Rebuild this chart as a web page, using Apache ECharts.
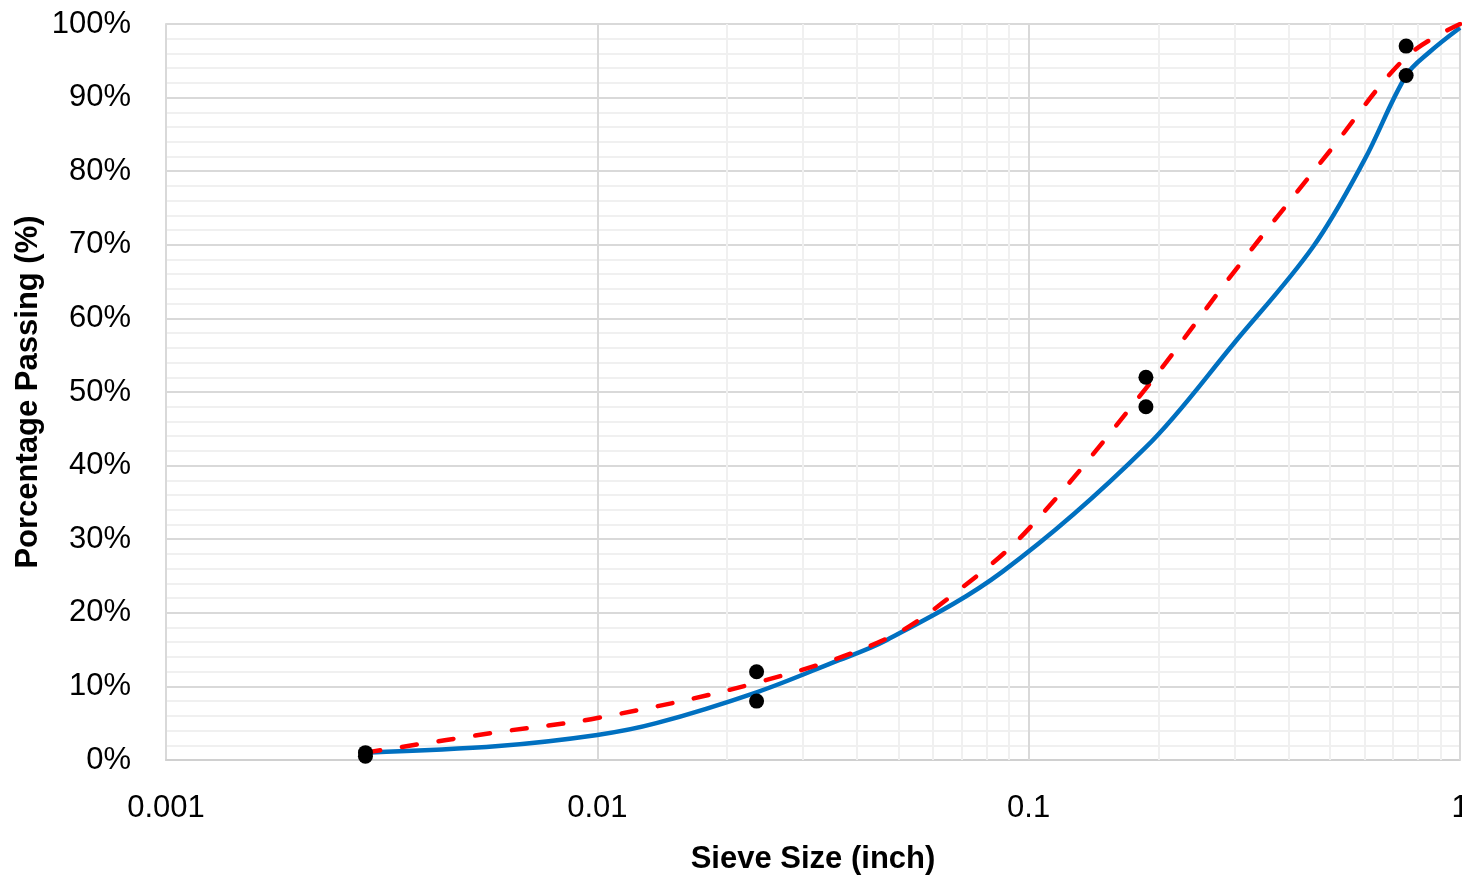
<!DOCTYPE html>
<html>
<head>
<meta charset="utf-8">
<script src="https://cdn.jsdelivr.net/npm/echarts@6/dist/echarts.min.js"></script>
<style>
html, body { margin: 0; padding: 0; background: #fff; }
#chart { width: 1462px; height: 877px; }
</style>
</head>
<body>
<div id="chart"></div>
<script>
// sieve sizes (inch) and % passing
var measuredSize = [0.0029, 0.0029, 0.0234, 0.0234, 0.187, 0.187, 0.75, 0.75];
var measuredPass = [1.0, 0.5, 12, 8, 52, 48, 97, 93];

var blueSize = [0.0029, 0.0059, 0.0100, 0.0137, 0.0234, 0.035, 0.0469, 0.087, 0.187, 0.30, 0.456, 0.60, 0.75, 0.85, 1.0];
var bluePass = [1.0, 1.9, 3.4, 5.0, 9.2, 13.2, 16.3, 25.6, 42.5, 56.7, 69.7, 81.5, 93.0, 96.2, 99.5];

var redSize = [0.0029, 0.0059, 0.0100, 0.0234, 0.0469, 0.070, 0.100, 0.187, 0.30, 0.50, 0.75, 1.0];
var redPass = [1.0, 3.8, 5.7, 10.5, 16.5, 23.4, 31.4, 50.5, 66.4, 82.8, 95.5, 100];

var xTickLabels = ['0.001', '0.01', '0.1', '1'];
var decades = [0.001, 0.01, 0.1, 1];

var FONT = "'Liberation Sans', Arial, sans-serif";

function pairs(xs, ys) {
	var out = [];
	for (var i = 0; i < xs.length; i++) {
		out.push([xs[i], ys[i]]);
	}
	return out;
}

// light vertical lines at 2..9 of every decade
var minorX = [];
decades.slice(0, 3).forEach(function(d) {
	for (var k = 2; k <= 9; k++) {
		minorX.push({ xAxis: +(d * k).toPrecision(3) });
	}
});
var majorX = decades.map(function(d) { return { xAxis: d }; });

var chart = echarts.init(document.getElementById('chart'));

chart.setOption({
	animation: false,
	backgroundColor: '#ffffff',
	grid: { left: 166, right: 2, top: 24, bottom: 117, containLabel: false, outerBoundsMode: 'none' },
	xAxis: {
		type: 'log',
		logBase: 10,
		min: 0.001,
		max: 1,
		name: 'Sieve Size (inch)',
		nameLocation: 'middle',
		nameGap: 84,
		nameMoveOverlap: false,
		nameTextStyle: { fontFamily: FONT, fontSize: 31, fontWeight: 'bold', color: '#000' },
		axisLine: { show: true, lineStyle: { color: '#d0d0d0', width: 2 } },
		axisTick: { show: false },
		axisLabel: {
			fontFamily: FONT, fontSize: 31, color: '#000', margin: 33,
			formatter: function(v) {
				return xTickLabels[Math.round(Math.log10(v)) + 3];
			}
		},
		splitLine: { show: true, lineStyle: { color: '#d9d9d9', width: 2 } }
	},
	yAxis: {
		type: 'value',
		min: 0,
		max: 100,
		interval: 10,
		name: 'Porcentage Passing (%)',
		nameLocation: 'middle',
		nameGap: 122,
		nameMoveOverlap: false,
		nameTextStyle: { fontFamily: FONT, fontSize: 31, fontWeight: 'bold', color: '#000' },
		axisLine: { show: true, lineStyle: { color: '#d9d9d9', width: 2 } },
		axisTick: { show: false },
		axisLabel: { fontFamily: FONT, fontSize: 31, color: '#000', margin: 35, formatter: '{value}%' },
		splitLine: { show: true, lineStyle: { color: '#d9d9d9', width: 2 } },
		minorTick: { show: false, splitNumber: 5 },
		minorSplitLine: { show: true, lineStyle: { color: '#f0f0f0', width: 2 } }
	},
	series: [{
		name: 'minor grid',
		type: 'line',
		data: [],
		z: 1,
		silent: true,
		markLine: {
			silent: true,
			z: 1,
			symbol: 'none',
			label: { show: false },
			lineStyle: { color: '#f0f0f0', width: 2, type: 'solid' },
			data: minorX
		}
	}, {
		name: 'major grid',
		type: 'line',
		data: [],
		z: 1,
		silent: true,
		markLine: {
			silent: true,
			z: 1,
			symbol: 'none',
			label: { show: false },
			lineStyle: { color: '#d9d9d9', width: 2, type: 'solid' },
			data: majorX
		}
	}, {
		name: 'blue',
		type: 'line',
		data: pairs(blueSize, bluePass),
		smooth: 0.35,
		showSymbol: false,
		lineStyle: { color: '#0070c0', width: 4.5 },
		z: 3
	}, {
		name: 'red',
		type: 'line',
		data: pairs(redSize, redPass),
		smooth: 0.35,
		showSymbol: false,
		lineStyle: { color: '#ff0000', width: 4.5, type: [15, 22], cap: 'round' },
		z: 4
	}, {
		name: 'measured',
		type: 'scatter',
		data: pairs(measuredSize, measuredPass),
		symbolSize: 15,
		itemStyle: { color: '#000', opacity: 1 },
		z: 5
	}]
});
</script>
</body>
</html>
